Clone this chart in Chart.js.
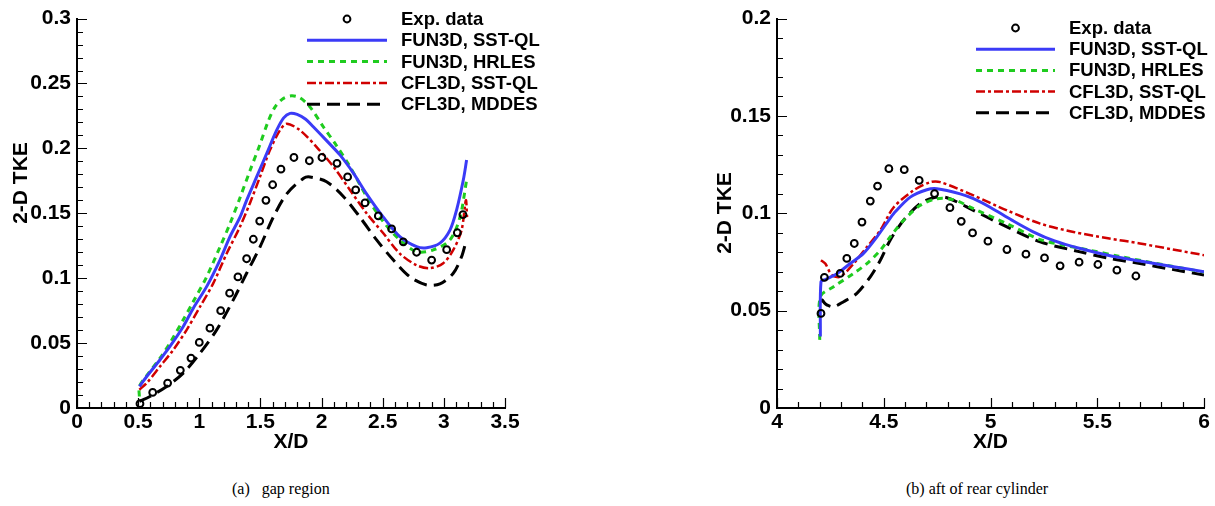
<!DOCTYPE html>
<html lang="en">
<head>
<meta charset="UTF-8">
<title>2-D TKE profiles</title>
<script src="https://cdn.jsdelivr.net/npm/chart.js"></script>
<style>
  body { margin: 0; background: #fff; width: 1215px; height: 506px; position: relative; overflow: hidden; }
  .box { position: absolute; top: 0; height: 470px; }
  #boxA { left: 0; width: 560px; }
  #boxB { left: 640px; width: 575px; }
  .cap { position: absolute; top: 480px; font-family: 'Liberation Serif', 'Times New Roman', serif; font-size: 16px; color: #000; white-space: pre; }
</style>
</head>
<body>
<div class="box" id="boxA"><canvas id="gapChart"></canvas></div>
<div class="box" id="boxB"><canvas id="aftChart"></canvas></div>
<div class="cap" style="left:232px">(a)   gap region</div>
<div class="cap" style="left:906px">(b) aft of rear cylinder</div>

<script>
  const seriesNames = ['Exp. data', 'FUN3D, SST-QL', 'FUN3D, HRLES', 'CFL3D, SST-QL', 'CFL3D, MDDES'];

  // (a) gap region
  const gapExpX = [0.515,0.619,0.741,0.845,0.932,1.000,1.087,1.175,1.248,1.316,1.387,1.442,1.494,1.545,1.600,1.668,1.774,1.900,2.003,2.126,2.213,2.279,2.355,2.464,2.573,2.668,2.777,2.900,3.023,3.110,3.156];
  const gapExpY = [0.0033,0.012,0.0192,0.029,0.0385,0.0505,0.0615,0.075,0.0885,0.101,0.115,0.130,0.144,0.160,0.172,0.184,0.193,0.1905,0.193,0.1885,0.178,0.168,0.158,0.148,0.138,0.128,0.120,0.114,0.122,0.135,0.149];

  const gapSstX = [0.51,0.57,0.679,0.76,0.869,0.951,1.06,1.169,1.251,1.333,1.387,1.469,1.551,1.633,1.69,1.742,1.80,1.87,1.932,2.041,2.15,2.26,2.368,2.505,2.64,2.777,2.86,2.968,3.05,3.104,3.159,3.186];
  const gapSstY = [0.0166,0.0243,0.0372,0.0474,0.0628,0.0769,0.0935,0.114,0.132,0.147,0.160,0.178,0.196,0.214,0.2235,0.227,0.2262,0.2225,0.2167,0.206,0.195,0.181,0.165,0.147,0.132,0.1243,0.1235,0.127,0.137,0.1525,0.1756,0.191];

  const gapHrlesX = [0.51,0.51,0.57,0.679,0.76,0.869,0.951,1.06,1.169,1.251,1.333,1.415,1.496,1.564,1.62,1.687,1.755,1.823,1.905,2.014,2.123,2.232,2.368,2.505,2.64,2.777,2.914,3.05,3.132,3.186];
  const gapHrlesY = [0.0089,0.0166,0.0249,0.0385,0.05,0.068,0.082,0.101,0.124,0.142,0.162,0.183,0.203,0.221,0.232,0.2385,0.2405,0.239,0.232,0.2167,0.202,0.186,0.163,0.1435,0.1295,0.1205,0.1218,0.1295,0.147,0.1756];

  const gapCflX = [0.51,0.57,0.679,0.788,0.897,1.006,1.115,1.224,1.333,1.415,1.496,1.578,1.66,1.715,1.823,1.96,2.096,2.232,2.368,2.505,2.64,2.777,2.886,2.995,3.077,3.145,3.18,3.19];
  const gapCflY = [0.0141,0.0192,0.032,0.0449,0.0602,0.078,0.0962,0.119,0.1397,0.158,0.178,0.1987,0.214,0.219,0.214,0.201,0.186,0.168,0.150,0.1346,0.119,0.110,0.1077,0.1115,0.1218,0.137,0.160,0.147];

  const gapDesX = [0.51,0.596,0.733,0.869,1.006,1.142,1.278,1.387,1.496,1.605,1.715,1.853,1.905,2.041,2.178,2.314,2.45,2.587,2.723,2.859,2.968,3.077,3.145,3.18];
  const gapDesY = [0.0051,0.0089,0.0166,0.0269,0.0423,0.0602,0.0833,0.1038,0.124,0.147,0.165,0.177,0.178,0.1743,0.163,0.147,0.1295,0.114,0.101,0.0948,0.0956,0.1038,0.1166,0.128];

  const gapXTicks = [0, 0.5, 1, 1.5, 2, 2.5, 3, 3.5];
  const gapYTicks = [0, 0.05, 0.1, 0.15, 0.2, 0.25, 0.3];

  // (b) aft of rear cylinder
  const aftExpX = [4.206,4.222,4.296,4.327,4.362,4.398,4.437,4.471,4.524,4.596,4.666,4.738,4.81,4.863,4.916,4.988,5.077,5.166,5.253,5.326,5.415,5.503,5.592,5.681];
  const aftExpY = [0.0486,0.0671,0.0691,0.0768,0.0845,0.0955,0.1063,0.114,0.1229,0.1224,0.1169,0.1101,0.1029,0.0959,0.0899,0.0857,0.0814,0.079,0.0771,0.073,0.0749,0.0737,0.0708,0.0678];

  const aftSstX = [4.203,4.206,4.226,4.281,4.343,4.405,4.468,4.523,4.546,4.624,4.702,4.749,4.858,4.92,5.0,5.1,5.2,5.3,5.42,5.55,5.7,5.85,6.0];
  const aftSstY = [0.0367,0.0648,0.066,0.069,0.0742,0.0794,0.0879,0.0964,0.0998,0.1083,0.1121,0.1126,0.110,0.1075,0.103,0.0965,0.0905,0.0858,0.0819,0.0785,0.0755,0.0727,0.070];

  const aftHrlesX = [4.2,4.203,4.265,4.359,4.421,4.484,4.53,4.593,4.671,4.749,4.827,4.92,5.077,5.233,5.35,5.467,5.6,5.75,6.0];
  const aftHrlesY = [0.035,0.0571,0.0623,0.0691,0.0742,0.081,0.0879,0.0964,0.1041,0.1075,0.107,0.1024,0.0947,0.0865,0.0835,0.081,0.078,0.0748,0.0698];

  const aftCflX = [4.206,4.226,4.257,4.296,4.359,4.421,4.484,4.546,4.64,4.718,4.765,4.92,5.077,5.233,5.389,5.55,5.7,5.85,6.0];
  const aftCflY = [0.0759,0.0742,0.0683,0.0674,0.0742,0.0827,0.0913,0.103,0.1118,0.116,0.116,0.1092,0.1015,0.0947,0.0904,0.0872,0.0845,0.0815,0.0785];

  const aftDesX = [4.206,4.212,4.222,4.234,4.265,4.312,4.374,4.437,4.484,4.53,4.593,4.671,4.733,4.796,4.92,5.077,5.233,5.42,5.55,5.7,5.85,6.0];
  const aftDesY = [0.0545,0.0555,0.054,0.0529,0.052,0.0546,0.0589,0.0674,0.0759,0.0862,0.0964,0.105,0.108,0.108,0.1015,0.093,0.0853,0.0802,0.077,0.0742,0.0712,0.0683];

  const aftXTicks = [4, 4.5, 5, 5.5, 6];
  const aftYTicks = [0, 0.05, 0.1, 0.15, 0.2];

  Chart.defaults.font.family = "'Liberation Sans', Arial, sans-serif";
  Chart.defaults.color = '#000';

  const lineStyles = [
    null,
    { color: '#3b3bf7', dash: [], width: 3 },
    { color: '#1fcc1f', dash: [6, 5], width: 3 },
    { color: '#d00000', dash: [9, 3, 3, 3], width: 2.5 },
    { color: '#000000', dash: [13, 7], width: 3 }
  ];

  function pts(xs, ys) {
    return xs.map((x, i) => ({ x: x, y: ys[i] }));
  }

  function makeDatasets(series) {
    return series.map((s, i) => {
      if (i === 0) {
        return {
          label: seriesNames[0], data: pts(s[0], s[1]), showLine: false,
          pointRadius: 3.4, pointBorderWidth: 2, pointBorderColor: '#000',
          pointBackgroundColor: 'rgba(0,0,0,0)', pointHoverRadius: 3.4
        };
      }
      const st = lineStyles[i];
      return {
        label: seriesNames[i], data: pts(s[0], s[1]), showLine: true,
        borderColor: st.color, borderWidth: st.width, borderDash: st.dash,
        pointRadius: 0, tension: 0.3, fill: false
      };
    });
  }

  // inward major/minor tick marks, like the original plot
  const inwardTicks = {
    id: 'inwardTicks',
    afterDatasetsDraw(chart, args, opts) {
      const ctx = chart.ctx;
      const xs = chart.scales.x, ys = chart.scales.y;
      const a = chart.chartArea;
      ctx.save();
      ctx.strokeStyle = '#000';
      ctx.lineWidth = 1.2;
      ctx.setLineDash([]);
      ctx.beginPath();
      const nx = Math.round((xs.max - xs.min) / opts.minorX);
      for (let k = 0; k <= nx; k++) {
        const v = xs.min + k * opts.minorX;
        const len = (k % 5 === 0) ? 10 : 6;
        const px = Math.round(xs.getPixelForValue(v)) + 0.5;
        ctx.moveTo(px, a.bottom);
        ctx.lineTo(px, a.bottom - len);
      }
      const ny = Math.round((ys.max - ys.min) / opts.minorY);
      for (let k = 0; k <= ny; k++) {
        const v = ys.min + k * opts.minorY;
        const len = (k % 5 === 0) ? 10 : 6;
        const py = Math.round(ys.getPixelForValue(v)) + 0.5;
        ctx.moveTo(a.left, py);
        ctx.lineTo(a.left + len, py);
      }
      ctx.stroke();
      ctx.restore();
    }
  };

  // legend drawn inside the plot, top right, plus the rotated y title
  const boxLegend = {
    id: 'boxLegend',
    afterDraw(chart, args, opts) {
      const ctx = chart.ctx;
      ctx.save();
      ctx.font = "bold 18.5px 'Liberation Sans', Arial, sans-serif";
      ctx.textBaseline = 'middle';
      ctx.textAlign = 'left';
      ctx.fillStyle = '#000';
      chart.data.datasets.forEach((ds, i) => {
        const y = opts.y0 + i * opts.dy;
        if (i === 0) {
          ctx.beginPath();
          ctx.lineWidth = 2;
          ctx.strokeStyle = '#000';
          ctx.arc((opts.x0 + opts.x1) / 2, y, 3.4, 0, Math.PI * 2);
          ctx.stroke();
        } else {
          ctx.beginPath();
          ctx.lineWidth = ds.borderWidth;
          ctx.strokeStyle = ds.borderColor;
          ctx.setLineDash(ds.borderDash);
          ctx.moveTo(opts.x0, y);
          ctx.lineTo(opts.x1, y);
          ctx.stroke();
          ctx.setLineDash([]);
        }
        ctx.fillText(ds.label, opts.tx, y + 1);
      });

      // y axis title
      ctx.translate(opts.titleX, opts.titleY);
      ctx.rotate(-Math.PI / 2);
      ctx.font = "bold 21px 'Liberation Sans', Arial, sans-serif";
      ctx.textAlign = 'center';
      ctx.fillText('2-D TKE', 0, 0);
      ctx.restore();
    }
  };

  function makeAxis(min, max, tickVals, isX, size) {
    return {
      type: 'linear', min: min, max: max,
      afterBuildTicks: s => { s.ticks = tickVals.map(v => ({ value: v })); },
      afterFit: s => { if (isX) s.height = size; else s.width = size; },
      grid: { display: false, drawTicks: false },
      border: { display: true, color: '#000', width: 2 },
      ticks: {
        autoSkip: false, maxRotation: 0, padding: isX ? 2 : 6, color: '#000',
        font: { size: 21, weight: 'bold' },
        callback: v => String(v)
      },
      title: {
        display: isX, text: 'X/D', color: '#000',
        font: { size: 21, weight: 'bold' }, padding: { top: 0, bottom: 15 }
      }
    };
  }

  function makeChart(id, series, xr, yr, xTicks, yTicks, cfg) {
    return new Chart(document.getElementById(id), {
      type: 'scatter',
      data: { datasets: makeDatasets(series) },
      options: {
        responsive: true,
        maintainAspectRatio: false,
        animation: false,
        layout: { padding: { left: 0, top: 18, right: cfg.padRight, bottom: 0 } },
        scales: {
          x: makeAxis(xr[0], xr[1], xTicks, true, 62),
          y: makeAxis(yr[0], yr[1], yTicks, false, cfg.yWidth)
        },
        plugins: {
          legend: { display: false },
          tooltip: { enabled: false },
          inwardTicks: { minorX: 0.1, minorY: 0.01 },
          boxLegend: cfg.legend
        }
      },
      plugins: [inwardTicks, boxLegend]
    });
  }

  makeChart('gapChart',
    [[gapExpX, gapExpY], [gapSstX, gapSstY], [gapHrlesX, gapHrlesY], [gapCflX, gapCflY], [gapDesX, gapDesY]],
    [0, 3.5], [0, 0.3], gapXTicks, gapYTicks,
    { padRight: 55, yWidth: 77,
      legend: { x0: 307, x1: 387, tx: 401, y0: 19, dy: 21.3, titleX: 21, titleY: 183 } });

  makeChart('aftChart',
    [[aftExpX, aftExpY], [aftSstX, aftSstY], [aftHrlesX, aftHrlesY], [aftCflX, aftCflY], [aftDesX, aftDesY]],
    [4, 6], [0, 0.2], aftXTicks, aftYTicks,
    { padRight: 11, yWidth: 137,
      legend: { x0: 336, x1: 415, tx: 429, y0: 28, dy: 21.2, titleX: 85, titleY: 213 } });
</script>
</body>
</html>
